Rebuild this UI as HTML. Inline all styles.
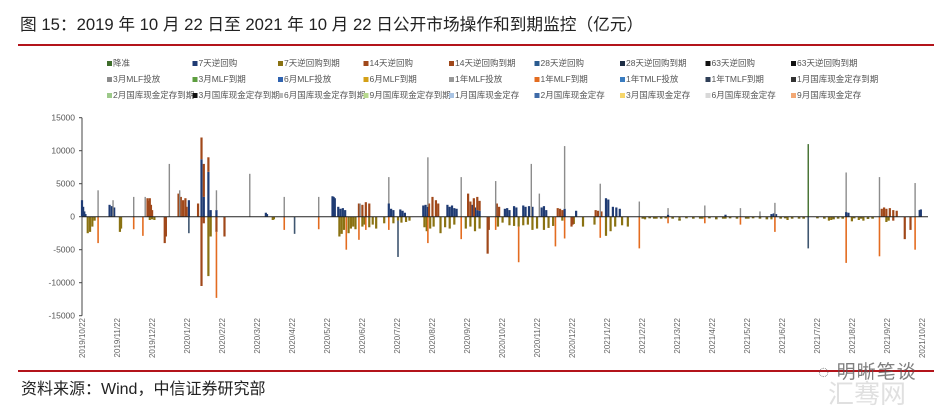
<!DOCTYPE html>
<html><head><meta charset="utf-8">
<style>
body{margin:0;background:#fff;width:952px;height:410px;overflow:hidden;position:relative;font-family:"Liberation Sans","Noto Sans CJK SC",sans-serif;}
.title{position:absolute;left:20px;top:11px;font-size:16.7px;color:#222;white-space:nowrap;}
.rl{position:absolute;left:18px;width:916px;height:2px;background:#b3141b;}
.src{position:absolute;left:21px;top:375px;font-size:16px;color:#222;}
.wm{position:absolute;left:818px;top:357px;font-size:19px;color:#555;opacity:.75;letter-spacing:1px;}
.wm2{position:absolute;left:828px;top:374px;font-size:26px;color:#ccc;opacity:.6;}
</style></head><body>
<div class="title">图 15：2019 年 10 月 22 日至 2021 年 10 月 22 日公开市场操作和到期监控（亿元）</div>
<div class="rl" style="top:44px"></div>
<svg id="chart" width="952" height="410" style="position:absolute;left:0;top:0"></svg>
<div class="rl" style="top:370px"></div>
<div class="src">资料来源：Wind，中信证券研究部</div>
<div class="wm2">汇骞网</div>
<div class="wm">◌ 明晰笔谈</div>
<script>
const legendLabels=["降准","7天逆回购","7天逆回购到期","14天逆回购","14天逆回购到期","28天逆回购","28天逆回购到期","63天逆回购","63天逆回购到期",
"3月MLF投放","3月MLF到期","6月MLF投放","6月MLF到期","1年MLF投放","1年MLF到期","1年TMLF投放","1年TMLF到期","1月国库现金定存到期",
"2月国库现金定存到期","3月国库现金定存到期","6月国库现金定存到期","9月国库现金定存到期","1月国库现金定存","2月国库现金定存","3月国库现金定存","6月国库现金定存","9月国库现金定存"];
const legendColors=["#3f6d2c","#1f3b73","#8a7212","#a0481a","#a0481a","#2a5b8f","#1e2e45","#111","#111",
"#8c8c8c","#5d9e3f","#2f63b0","#d4a017","#999","#e36c20","#3a7cc0","#2f3f57","#333",
"#9dc98a","#111","#bbb","#b8d98e","#a9c4e4","#3f6ba8","#f6d66b","#d8d8d8","#f2a874"];
const yTicks=[15000,10000,5000,0,-5000,-10000,-15000];
const xTickLabels=["2019/10/22","2019/11/22","2019/12/22","2020/1/22","2020/2/22","2020/3/22","2020/4/22","2020/5/22","2020/6/22","2020/7/22","2020/8/22","2020/9/22","2020/10/22","2020/11/22","2020/12/22","2021/1/22","2021/2/22","2021/3/22","2021/4/22","2021/5/22","2021/6/22","2021/7/22","2021/8/22","2021/9/22","2021/10/22"];
const rrrDays=[632];
const rrrVals=[11000];
const rr7Days=[0,1,2,3,24,26,28,93,104,106,110,112,117,160,161,218,219,220,223,225,227,229,267,269,271,277,279,281,297,299,301,318,320,322,324,326,340,342,344,346,368,370,372,376,378,384,386,389,392,400,402,404,420,430,456,458,462,465,468,510,560,600,602,604,665,667,729,730];
const rr7Vals=[2500,1500,800,400,1800,1600,1400,2500,8700,3000,6800,1000,1000,600,400,3100,3000,2800,1500,1200,1300,1000,2000,1200,1000,1100,900,600,1700,1800,1500,1800,1500,1700,1300,1200,1800,1400,1000,900,1200,1300,1000,1600,1400,1700,1500,1600,1500,1400,1600,1000,1200,900,2800,2600,1500,1400,1200,300,300,400,500,400,700,600,1000,1100];
const rr7ExpDays=[5,7,9,11,33,34,59,61,63,110,112,166,167,224,226,228,232,234,236,238,244,246,250,253,256,263,271,275,278,282,285,298,300,303,306,312,316,320,324,334,338,342,346,362,366,372,376,380,384,388,392,396,402,406,410,418,428,436,446,456,460,464,470,475,490,500,520,540,560,580,600,614,650,652,670,676,680,700,702];
const rr7ExpVals=[-2500,-2300,-1500,-600,-2300,-1800,-500,-400,-500,-9000,-3000,-500,-400,-3000,-2600,-2000,-2500,-1800,-1500,-1900,-1500,-1200,-1600,-1200,-1800,-1000,-1000,-600,-900,-800,-600,-1600,-2200,-1800,-1500,-2500,-1600,-1800,-1200,-1800,-1500,-2200,-1800,-1500,-900,-1300,-1400,-1500,-1300,-1200,-2000,-1800,-2000,-1700,-1400,-600,-1100,-1500,-1200,-2900,-2200,-1500,-1300,-1500,-400,-300,-300,-300,-300,-300,-400,-500,-600,-500,-700,-500,-600,-800,-600];
const smallDays=[488,494,498,504,508,514,520,526,532,538,546,552,558,564,570,578,584,590,596,608,612,618,624,628,640,646,654,658,662,672,678,684,688];
const smallVals=[-300,-250,-300,-300,-250,-300,-300,-250,-300,-300,-250,-400,-300,-250,-300,-300,-250,-300,-400,-300,-250,-300,-300,-300,-250,-300,-400,-300,-300,-250,-300,-350,-300];
const rr14Days=[57,58,59,60,61,84,86,88,90,91,101,104,106,110,241,244,247,250,361,363,302,305,308,310,336,338,341,344,346,414,416,418,447,449,452,696,698,700,703,706,709];
const rr14Vals=[2800,2400,2800,1800,1000,3500,3000,2500,2800,1500,2000,3300,5000,2200,2000,1800,2200,2000,2000,1500,2000,3000,2500,2000,3500,2300,2800,2000,1500,1300,1200,1000,1000,900,800,1200,1400,1200,1300,1000,900];
const rr14ExpDays=[72,73,104,106,117,124,353,354,426,427,706,716,721];
const rr14ExpVals=[-4000,-3000,-10500,-1000,-2300,-3000,-5600,-2000,-1500,-1200,-600,-3400,-2000];
const mlfDays=[14,27,45,55,76,85,117,146,176,206,242,267,301,330,360,391,398,420,451,485,510,542,573,590,603,665,694,725];
const mlfVals=[4000,2500,3000,3000,8000,4000,3000,6500,3000,3000,2000,4000,7500,6000,5400,8000,3500,9500,5000,2300,1000,1700,1300,800,2100,6000,6000,5100];
const mlfExpDays=[14,45,53,117,176,206,230,241,247,267,301,330,360,380,412,420,451,485,510,542,573,603,665,694,725];
const mlfExpVals=[-4000,-1900,-2900,-10000,-2000,-1900,-5000,-3500,-2000,-2000,-4000,-3400,-2000,-5400,-4500,-3300,-3200,-4800,-1000,-1000,-1200,-2300,-7000,-6000,-5000];
const tmlfExpDays=[93,185,275,632];
const tmlfExpVals=[-2500,-2600,-5500,-4800];

const NS="http://www.w3.org/2000/svg";
const svg=document.getElementById('chart');
const X0=82,X1=922,DAYS=731,Y0=216.7,PER=33/5000;
const xs=d=>X0+d*(X1-X0)/DAYS;
const ys=v=>Y0-v*PER;
function mk(t,a){const e=document.createElementNS(NS,t);for(const k in a)e.setAttribute(k,a[k]);svg.appendChild(e);return e;}
legendLabels.forEach((lab,i)=>{
  const row=Math.floor(i/9),col=i%9;
  const x=107+col*85.5,y=66+row*16;
  const r=mk('rect',{x:x,y:y-5,width:5,height:5,fill:legendColors[i]});
  
  
  const t=mk('text',{x:x+6,y:y,'font-size':'8.5',fill:'#555'});
  t.textContent=lab;
  
  
});
const ax=mk('line',{x1:X0,y1:ys(15000),x2:X0,y2:ys(-15000),stroke:'#444','stroke-width':1});


yTicks.forEach(v=>{
  const tk=mk('line',{x1:X0-3,y1:ys(v),x2:X0,y2:ys(v),stroke:'#444'});
  
  
  const t=mk('text',{x:X0-7,y:ys(v)+3,'font-size':'8.5',fill:'#555','text-anchor':'end'});
  t.textContent=v;
  
  
});
xTickLabels.forEach((lab,i)=>{
  const x=X0+i*(X1-X0)/24;
  const t=mk('text',{x:0,y:0,'font-size':'8','fill':'#666','text-anchor':'end',transform:`translate(${x+3},318) rotate(-90)`});
  t.textContent=lab;
  
  
});
const pos={},neg={};
function series(days,vals,color,name,w){
  days.forEach((d,i)=>{
    const v=vals[i];let base;
    if(v>=0){base=pos[d]||0;pos[d]=base+v;}else{base=neg[d]||0;neg[d]=base+v;}
    const y1=ys(base),y2=ys(base+v);
    const r=mk('rect',{x:xs(d)-w/2,y:Math.min(y1,y2),width:w,height:Math.max(0.8,Math.abs(y2-y1)),fill:color});
    
    
  });
}
series(rr7Days,rr7Vals,'#1f3b73','bar-7d-reverse-repo',2.2);
series(rr7ExpDays,rr7ExpVals,'#8a7212','bar-7d-reverse-repo-expiry',2.2);
series(smallDays,smallVals,'#7a6a18','bar-7d-reverse-repo-expiry-small',2.6);
series(rr14Days,rr14Vals,'#a0481a','bar-14d-reverse-repo',2.2);
series(rr14ExpDays,rr14ExpVals,'#a0481a','bar-14d-reverse-repo-expiry',2.2);
series(mlfDays,mlfVals,'#8c8c8c','bar-1y-mlf-injection',1.4);
series(mlfExpDays,mlfExpVals,'#e36c20','bar-1y-mlf-expiry',1.6);
series(tmlfExpDays,tmlfExpVals,'#3f5670','bar-tmlf-expiry',1.6);
series(rrrDays,rrrVals,'#3f6d2c','bar-rrr-cut',1.4);
const zl=mk('line',{x1:X0,y1:Y0,x2:X1+6,y2:Y0,stroke:'#222','stroke-width':1});


</script>
</body></html>
